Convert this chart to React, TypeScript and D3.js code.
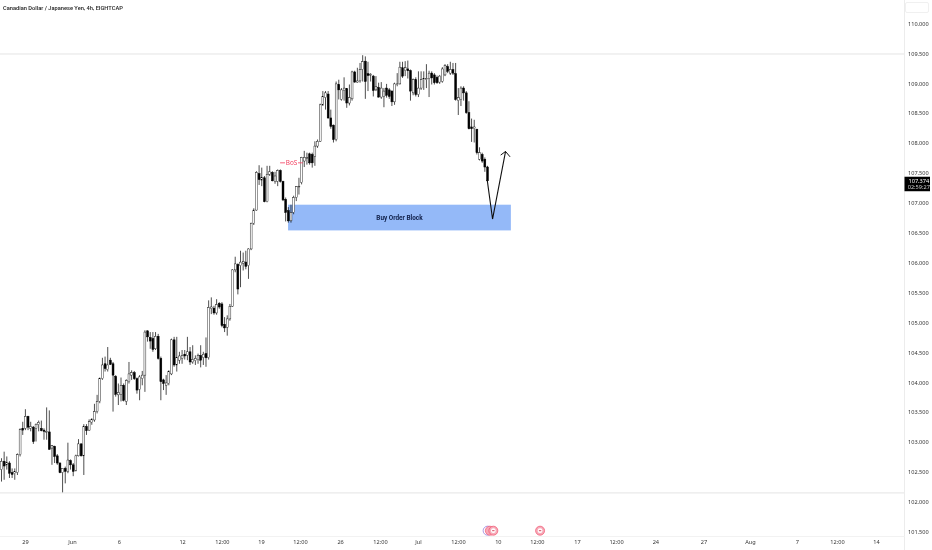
import React, { useEffect, useRef } from 'react';
import * as d3 from 'd3';

const opens = [
  102.54,102.68,102.62,102.65,102.49,102.47,102.49,102.79,103.23,103.23,
  103.43,103.23,103.25,103.23,103.29,103.23,103.20,103.17,103.17,102.90,
  102.93,102.77,102.65,102.49,102.56,102.51,102.69,102.62,102.53,102.77,
  102.97,102.77,103.26,103.20,103.33,103.37,103.51,103.68,104.06,104.31,
  104.21,104.37,104.31,104.10,103.79,103.80,103.95,103.68,104.01,104.12,
  104.16,104.06,103.88,104.06,104.12,104.86,104.75,104.73,104.56,104.77,
  104.40,104.04,103.95,103.98,104.14,104.71,104.29,104.37,104.40,104.47,
  104.45,104.51,104.34,104.36,104.38,104.45,104.41,104.48,104.41,105.23,
  105.24,105.16,105.32,105.31,104.97,104.92,105.06,105.27,105.88,105.97,
  105.95,105.99,106.01,105.95,106.23,106.66,106.88,107.49,107.38,107.42,
  107.02,107.48,107.51,107.36,107.36,107.54,107.36,107.06,106.87,106.70,
  106.84,107.09,107.27,107.34,107.70,107.75,107.82,107.81,107.78,107.95,
  108.03,108.64,108.76,108.82,108.42,108.30,108.06,108.98,108.73,108.88,
  108.91,108.67,108.74,109.19,109.02,109.04,109.23,109.37,109.16,109.14,
  109.12,108.89,108.93,108.77,108.78,108.92,108.89,108.87,108.69,108.98,
  108.99,109.26,109.21,109.24,109.21,108.84,109.06,108.81,108.92,109.06,
  109.06,109.08,109.17,109.14,109.10,109.02,109.03,109.14,109.28,109.17,
  109.23,109.16,108.71,108.73,108.92,108.84,108.51,108.27,108.24,108.23,
  107.73,107.81,107.73,107.60,
];
const closes = [
  102.68,102.60,102.66,102.48,102.46,102.51,102.79,103.21,103.20,103.43,
  103.25,103.26,103.01,103.30,103.33,103.19,103.18,103.18,102.88,102.94,
  102.76,102.65,102.49,102.56,102.51,102.70,102.62,102.51,102.77,102.97,
  102.77,103.26,103.19,103.34,103.38,103.51,103.68,104.06,104.29,104.23,
  104.29,104.30,104.12,103.80,103.83,103.95,103.70,104.03,104.14,104.16,
  104.06,103.87,104.09,104.12,104.84,104.76,104.69,104.55,104.77,104.40,
  104.01,103.98,103.99,104.18,104.71,104.29,104.41,104.44,104.45,104.44,
  104.51,104.34,104.38,104.40,104.45,104.37,104.47,104.41,105.25,105.26,
  105.16,105.30,105.26,104.95,104.91,105.06,105.27,105.88,105.98,105.56,
  106.01,106.02,105.94,106.23,106.66,106.88,107.51,107.39,107.42,107.02,
  107.48,107.52,107.37,107.45,107.54,107.36,107.05,106.84,106.70,106.84,
  107.09,107.27,107.28,107.76,107.76,107.76,107.67,107.67,107.95,108.03,
  108.64,108.78,108.84,108.42,108.28,108.06,108.99,108.89,108.89,108.92,
  108.67,108.76,109.19,109.02,109.04,109.23,109.36,109.03,109.13,109.15,
  108.88,108.95,108.77,108.92,108.87,108.80,108.78,108.69,108.99,108.99,
  109.27,109.12,109.26,109.21,108.87,109.06,108.81,108.92,109.06,109.08,
  109.08,109.17,109.09,109.01,109.01,109.12,109.24,109.30,109.20,109.23,
  109.17,108.73,108.76,108.92,108.84,108.51,108.24,108.24,108.27,107.84,
  107.84,107.70,107.60,107.37,
];
const highs = [
  102.73,102.84,102.76,102.68,102.56,102.56,102.81,103.23,103.34,103.55,
  103.44,103.34,103.27,103.31,103.36,103.36,103.23,103.58,103.53,102.95,
  102.94,102.80,102.66,102.56,102.59,102.99,102.71,102.65,102.79,103.05,
  102.98,103.30,103.30,103.38,103.40,103.64,103.79,104.08,104.41,104.43,
  104.59,104.41,104.34,104.12,103.98,104.08,103.98,104.05,104.34,104.20,
  104.19,104.08,104.12,104.19,104.87,104.87,104.84,104.84,104.84,104.81,
  104.43,104.06,104.12,104.20,104.73,104.76,104.76,104.51,104.54,104.54,
  104.76,104.59,104.62,104.45,104.48,104.62,104.51,104.75,105.37,105.42,
  105.28,105.39,105.34,105.34,105.09,105.12,105.31,105.89,106.10,105.99,
  106.20,106.17,106.20,106.24,106.67,106.91,107.53,107.63,107.59,107.45,
  107.62,107.62,107.53,107.52,107.56,107.56,107.37,107.09,106.93,106.97,
  107.12,107.28,107.42,107.77,107.87,107.84,107.84,107.84,108.03,108.06,
  108.66,108.87,108.87,108.87,108.56,108.31,109.03,109.06,108.92,109.10,
  108.92,108.98,109.21,109.21,109.26,109.34,109.47,109.45,109.36,109.17,
  109.14,109.12,109.01,109.02,108.92,108.99,108.92,108.88,109.01,109.17,
  109.36,109.36,109.37,109.38,109.23,109.08,109.10,109.20,109.20,109.20,
  109.32,109.21,109.20,109.17,109.13,109.14,109.27,109.32,109.32,109.36,
  109.34,109.34,108.92,108.95,108.95,108.87,108.70,108.41,108.39,108.24,
  107.93,107.84,107.76,107.62,
];
const lows = [
  102.34,102.37,102.54,102.40,102.40,102.37,102.45,102.76,103.12,103.20,
  103.20,103.18,102.97,103.01,103.18,103.18,103.04,103.04,102.87,102.62,
  102.65,102.62,102.48,102.16,102.31,102.48,102.54,102.43,102.51,102.76,
  102.76,102.45,103.12,103.19,103.29,103.34,103.48,103.65,104.04,104.18,
  104.18,104.29,103.51,103.76,103.62,103.68,103.68,103.62,103.98,104.04,
  104.04,103.81,103.70,103.95,103.84,104.68,104.56,104.51,104.54,104.38,
  103.70,103.87,103.79,103.95,104.12,104.26,104.18,104.31,104.31,104.38,
  104.37,104.29,104.31,104.29,104.31,104.25,104.29,104.26,104.38,105.14,
  105.13,105.13,105.23,104.92,104.84,104.78,105.03,105.26,105.84,105.47,
  105.59,105.87,105.89,105.73,106.21,106.63,106.87,107.30,107.28,107.01,
  107.01,107.45,107.36,107.32,107.28,107.34,107.03,106.69,106.67,106.67,
  106.81,107.03,107.14,107.31,107.60,107.64,107.64,107.59,107.62,107.92,
  108.02,108.62,108.56,108.41,108.24,108.01,108.03,108.73,108.71,108.71,
  108.59,108.63,108.71,109.01,109.01,109.01,109.03,108.74,108.87,109.03,
  108.78,108.87,108.76,108.74,108.60,108.76,108.74,108.62,108.64,108.95,
  108.98,109.09,109.12,109.08,108.71,108.80,108.78,108.77,108.89,108.89,
  108.92,108.77,108.98,108.98,108.99,108.99,109.01,109.12,109.17,109.14,
  109.14,108.71,108.47,108.62,108.71,108.49,108.23,108.02,108.01,107.81,
  107.71,107.67,107.52,107.34,
];

// date labels, with the bar each one sits on (some are past the last candle)
const dateTickBars = [8.85, 26.5, 44.2, 68, 83, 97.7, 112.4, 127.5, 142.5, 156.8, 171.9, 186.9, 201.6, 216.7, 231.4, 246.2, 264.3, 281.8, 299.5, 314.6, 329.3];
const dateTickLabels = ['29', 'Jun', '6', '12', '12:00', '19', '12:00', '26', '12:00', 'Jul', '12:00', '10', '12:00', '17', '12:00', '24', '27', 'Aug', '7', '12:00', '14'];
const priceTicks = d3.range(101.5, 110.01, 0.5);

const levelPrices = [109.49, 102.15];
const blockBars = [107.9, 191.8];
const blockPrices = [106.97, 106.54];
const bosBars = [104.9, 113.5];
const bosPrice = 107.67;
const pathBars = [182.9, 184.9, 189.8];
const pathPrices = [107.38, 106.73, 107.86];
const headBars = [187.96, 189.8, 191.5];
const headPrices = [107.8, 107.86, 107.77];
const eventBars = [183.05, 183.9, 185.2, 202.8];
const eventColors = ['#8a6fd8', '#f0526e', '#f0526e', '#f0526e'];
const lastPrice = 107.374;
const countdown = '02:59:27';
const title = 'Canadian Dollar / Japanese Yen, 4h, EIGHTCAP';

const W = 932;
const H = 550;
const font = "'Noto Sans', sans-serif";

export default function App() {
  const svgRef = useRef<SVGSVGElement>(null);

  useEffect(() => {
    if (!svgRef.current) return;
    const svg = d3.select(svgRef.current);
    svg.selectAll('*').remove();

    const axisX = 904.5;
    const axisY = 536.5;
    const x = d3.scaleLinear().domain([0, 183]).range([1.5, 487.5]);
    const y = d3.scaleLinear().domain([101.5, 110]).range([531.8, 23.5]);

    const blur = svg.append('defs').append('filter').attr('id', 'soft')
      .attr('x', 0).attr('y', 0).attr('width', 1).attr('height', 1);
    blur.append('feGaussianBlur').attr('stdDeviation', 0.42);

    const root = svg.append('g').attr('filter', 'url(#soft)');
    root.append('rect').attr('width', W).attr('height', H).attr('fill', '#fff');

    // Horizontal levels
    levelPrices.forEach(p => {
      root.append('line')
        .attr('x1', 0).attr('x2', axisX)
        .attr('y1', y(p)).attr('y2', y(p))
        .attr('stroke', '#e4e4e4').attr('stroke-width', 1);
    });

    // Order block
    root.append('rect')
      .attr('x', x(blockBars[0]))
      .attr('y', y(blockPrices[0]))
      .attr('width', x(blockBars[1]) - x(blockBars[0]))
      .attr('height', y(blockPrices[1]) - y(blockPrices[0]))
      .attr('fill', '#94b9f8');
    root.append('text')
      .attr('x', (x(blockBars[0]) + x(blockBars[1])) / 2)
      .attr('y', (y(blockPrices[0]) + y(blockPrices[1])) / 2 + 2.2)
      .attr('text-anchor', 'middle')
      .attr('font-family', 'Roboto')
      .attr('font-weight', 'bold')
      .attr('font-size', 6.4)
      .attr('fill', '#10204a')
      .text('Buy Order Block');

    // Candlesticks
    const bodyWidth = 1.9;
    opens.forEach((o, i) => {
      const c = closes[i];
      const up = c >= o;
      root.append('line')
        .attr('x1', x(i)).attr('x2', x(i))
        .attr('y1', y(highs[i])).attr('y2', y(lows[i]))
        .attr('stroke', '#000').attr('stroke-width', 0.7);
      root.append('rect')
        .attr('x', x(i) - bodyWidth / 2)
        .attr('y', y(Math.max(o, c)))
        .attr('width', bodyWidth)
        .attr('height', Math.max(0.8, Math.abs(y(o) - y(c))))
        .attr('fill', up ? '#fff' : '#000')
        .attr('stroke', '#000')
        .attr('stroke-width', up ? 0.4 : 0.5);
    });

    // BoS marker
    const bosMid = (x(bosBars[0]) + x(bosBars[1])) / 2;
    root.append('line')
      .attr('x1', x(bosBars[0])).attr('x2', bosMid - 6.5)
      .attr('y1', y(bosPrice)).attr('y2', y(bosPrice))
      .attr('stroke', '#f23e5e').attr('stroke-width', 0.8);
    root.append('line')
      .attr('x1', bosMid + 6.5).attr('x2', x(bosBars[1]))
      .attr('y1', y(bosPrice)).attr('y2', y(bosPrice))
      .attr('stroke', '#f23e5e').attr('stroke-width', 0.8);
    root.append('text')
      .attr('x', bosMid).attr('y', y(bosPrice) + 2.2)
      .attr('text-anchor', 'middle')
      .attr('font-family', font).attr('font-size', 6.4)
      .attr('fill', '#f23e5e')
      .text('BoS');

    // Projected path and arrow head
    const line = d3.line<number>()
      .x((d: number) => x(d))
      .y((_: number, i: number) => y(pathPrices[i]));
    root.append('path')
      .attr('d', line(pathBars))
      .attr('fill', 'none').attr('stroke', '#111').attr('stroke-width', 1.1);
    const headLine = d3.line<number>()
      .x((d: number) => x(d))
      .y((_: number, i: number) => y(headPrices[i]));
    root.append('path')
      .attr('d', headLine(headBars))
      .attr('fill', 'none').attr('stroke', '#111').attr('stroke-width', 1);

    // Price axis
    root.append('line')
      .attr('x1', axisX).attr('x2', axisX).attr('y1', 0).attr('y2', H)
      .attr('stroke', '#ececec');
    const priceAxis = root.append('g')
      .attr('transform', `translate(${axisX},0)`)
      .call(d3.axisRight(y).tickValues(priceTicks).tickSize(0).tickPadding(3.5).tickFormat(d3.format('.3f')));
    priceAxis.select('.domain').remove();
    priceAxis.selectAll('text')
      .attr('font-family', font).attr('font-size', 5.6).attr('fill', '#333');

    // Time axis
    root.append('line')
      .attr('x1', 0).attr('x2', axisX).attr('y1', axisY).attr('y2', axisY)
      .attr('stroke', '#f2f2f2');
    const timeAxis = root.append('g')
      .attr('transform', `translate(0,${axisY})`)
      .call(d3.axisBottom(x).tickValues(dateTickBars).tickSize(0).tickPadding(4)
        .tickFormat((_: any, i: number) => dateTickLabels[i]));
    timeAxis.select('.domain').remove();
    timeAxis.selectAll('text')
      .attr('font-family', font).attr('font-size', 5.6).attr('fill', '#333');

    // Economic event markers
    eventBars.forEach((b, i) => {
      root.append('circle')
        .attr('cx', x(b)).attr('cy', 530.7).attr('r', 4.5)
        .attr('fill', i === 0 ? '#fff' : '#f7aab8')
        .attr('stroke', eventColors[i]).attr('stroke-width', 0.7);
      if (i >= 2) {
        root.append('circle')
          .attr('cx', x(b)).attr('cy', 530.7).attr('r', 2.4)
          .attr('fill', '#fff');
        root.append('line')
          .attr('x1', x(b) - 1.2).attr('x2', x(b) + 1.2)
          .attr('y1', 530.7).attr('y2', 530.7)
          .attr('stroke', '#d0344f').attr('stroke-width', 0.9);
      }
    });

    // Last price tag
    const tagY = y(lastPrice);
    root.append('rect')
      .attr('x', axisX).attr('y', tagY - 3.8)
      .attr('width', W - axisX - 2).attr('height', 14.5)
      .attr('fill', '#000');
    root.append('text')
      .attr('x', axisX + 4).attr('y', tagY + 2.2)
      .attr('font-family', font).attr('font-size', 5.6).attr('fill', '#fff')
      .text(lastPrice.toFixed(3));
    root.append('text')
      .attr('x', axisX + 3.2).attr('y', tagY + 8.8)
      .attr('font-family', font).attr('font-size', 5.6).attr('fill', '#ccc')
      .text(countdown);

    // Top right button
    root.append('rect')
      .attr('x', 905.5).attr('y', 2.5).attr('width', 23).attr('height', 10).attr('rx', 1.5)
      .attr('fill', '#fff').attr('stroke', '#f0f0f0');

    // Title
    root.append('text')
      .attr('x', 3).attr('y', 9.6)
      .attr('font-family', 'Roboto').attr('font-size', 5.7).attr('font-weight', 500)
      .attr('fill', '#222')
      .text(title);
  }, []);

  return (
    <svg
      ref={svgRef}
      width={W}
      height={H}
      style={{ position: 'absolute', left: 0, top: 0, display: 'block' }}
    />
  );
}
